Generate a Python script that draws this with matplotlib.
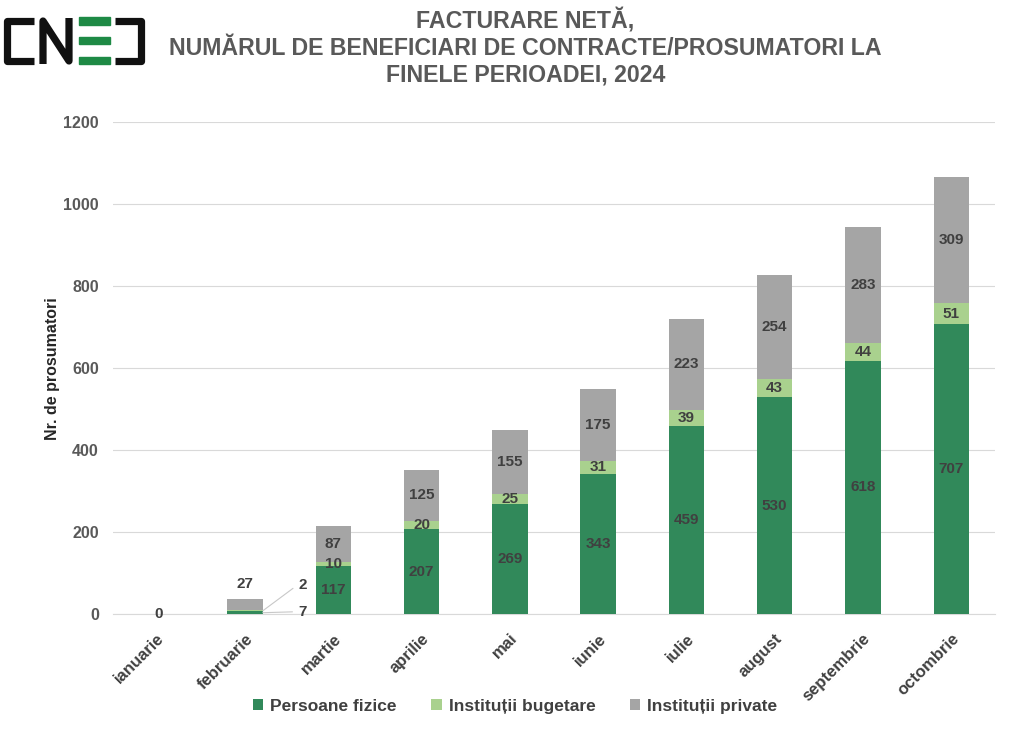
import matplotlib.pyplot as plt
import numpy as np
from matplotlib.patches import Rectangle
from matplotlib.lines import Line2D

plt.rcParams['font.family'] = ['Liberation Sans', 'DejaVu Sans']

# data
months = ['ianuarie', 'februarie', 'martie', 'aprilie', 'mai', 'iunie',
          'iulie', 'august', 'septembrie', 'octombrie']
persoane_fizice = [0, 7, 117, 207, 269, 343, 459, 530, 618, 707]
institutii_bugetare = [0, 2, 10, 20, 25, 31, 39, 43, 44, 51]
institutii_private = [0, 27, 87, 125, 155, 175, 223, 254, 283, 309]

c_pf = '#31895a'
c_ib = '#a9d18e'
c_ip = '#a5a5a5'
txt = '#404040'
grey = '#595959'

W, H = 1024, 732
fig = plt.figure(figsize=(W / 100, H / 100), dpi=100)
ax = fig.add_axes([0.110, 0.161, 0.862, 0.672])

x = np.arange(len(months))
pf = np.array(persoane_fizice)
ib = np.array(institutii_bugetare)
ip = np.array(institutii_private)
w = 0.40

b1 = ax.bar(x, pf, w, color=c_pf, label='Persoane fizice', zorder=3)
b2 = ax.bar(x, ib, w, bottom=pf, color=c_ib, label='Instituții bugetare', zorder=3)
b3 = ax.bar(x, ip, w, bottom=pf + ib, color=c_ip, label='Instituții private', zorder=3)

# labels inside the bars (from martie on)
for i in range(2, len(months)):
    ax.text(x[i], pf[i] / 2, str(pf[i]), ha='center', va='center',
            fontsize=11, fontweight='bold', color=txt, zorder=4)
    ax.text(x[i], pf[i] + ib[i] / 2, str(ib[i]), ha='center', va='center',
            fontsize=11, fontweight='bold', color=txt, zorder=4)
    ax.text(x[i], pf[i] + ib[i] + ip[i] / 2, str(ip[i]), ha='center', va='center',
            fontsize=11, fontweight='bold', color=txt, zorder=4)

# ianuarie
ax.text(x[0] + 0.02, 0, '0', ha='center', va='center', fontsize=11,
        fontweight='bold', color=txt, zorder=4)

# februarie: labels outside with leader lines
ax.text(x[1], pf[1] + ib[1] + ip[1] + 38, str(ip[1]), ha='center', va='center',
        fontsize=11, fontweight='bold', color=txt)
ax.annotate(str(ib[1]), xy=(x[1] + w / 2, pf[1] + ib[1] / 2), xytext=(x[1] + 0.60, 72),
            fontsize=11, fontweight='bold', color=txt, va='center', ha='left',
            arrowprops=dict(arrowstyle='-', color='#c8c8c8', lw=0.8,
                            shrinkA=2, shrinkB=0, relpos=(0, 0.5)))
ax.annotate(str(pf[1]), xy=(x[1] + w / 2, pf[1] / 2), xytext=(x[1] + 0.60, 6),
            fontsize=11, fontweight='bold', color=txt, va='center', ha='left',
            arrowprops=dict(arrowstyle='-', color='#c8c8c8', lw=0.8,
                            shrinkA=2, shrinkB=0, relpos=(0, 0.5)))

ax.set_ylim(0, 1200)
ax.set_yticks(range(0, 1201, 200))
ax.set_xlim(-0.5, len(months) - 0.5)
ax.set_xticks(x)
ax.set_xticklabels(months, rotation=45, ha='right', rotation_mode='anchor',
                   fontsize=12, fontweight='bold', color=txt)
for lab in ax.get_yticklabels():
    lab.set_fontweight('bold')
    lab.set_fontsize(11.5)
    lab.set_color(grey)
ax.tick_params(axis='y', length=0, pad=10)
ax.tick_params(axis='x', length=0, pad=12)
ax.grid(axis='y', color='#d9d9d9', lw=0.8, zorder=0)
for s in ['top', 'right', 'left']:
    ax.spines[s].set_visible(False)
ax.spines['bottom'].set_color('#d9d9d9')
ax.set_ylabel('Nr. de prosumatori', fontsize=11.5, fontweight='bold', color='#262626', labelpad=2)

leg = fig.legend(handles=[b1, b2, b3], loc='center', bbox_to_anchor=(0.503, 0.035), ncol=3,
                 frameon=False, fontsize=12.5, handlelength=0.6, handleheight=0.6,
                 handletextpad=0.4, columnspacing=2.0)
for t in leg.get_texts():
    t.set_fontweight('bold')
    t.set_color(txt)

fig.text(0.513, 0.935, 'FACTURARE NETĂ,\nNUMĂRUL DE BENEFICIARI DE CONTRACTE/PROSUMATORI LA\nFINELE PERIOADEI, 2024',
         ha='center', va='center', fontsize=16.7, fontweight='bold', color=grey, linespacing=1.2)


# logo CNED, drawn in pixel coordinates
def px_line(xs, ys, color='#111111'):
    fig.lines.append(Line2D([v / W for v in xs], [1 - v / H for v in ys],
                            transform=fig.transFigure, color=color, lw=5.2,
                            solid_joinstyle='round', solid_capstyle='butt'))


px_line([34, 7, 7, 34], [21, 21, 61, 61])
px_line([43, 43, 69, 69], [64, 21, 61, 18])
for y0, y1 in [(17, 25), (37, 44), (57, 64)]:
    fig.patches.append(Rectangle((79 / W, 1 - y1 / H), 31 / W, (y1 - y0) / H,
                                 transform=fig.transFigure, color='#1e8a45'))
px_line([115, 141, 141, 115], [21, 21, 61, 61])

fig.savefig('out.png', dpi=100)
